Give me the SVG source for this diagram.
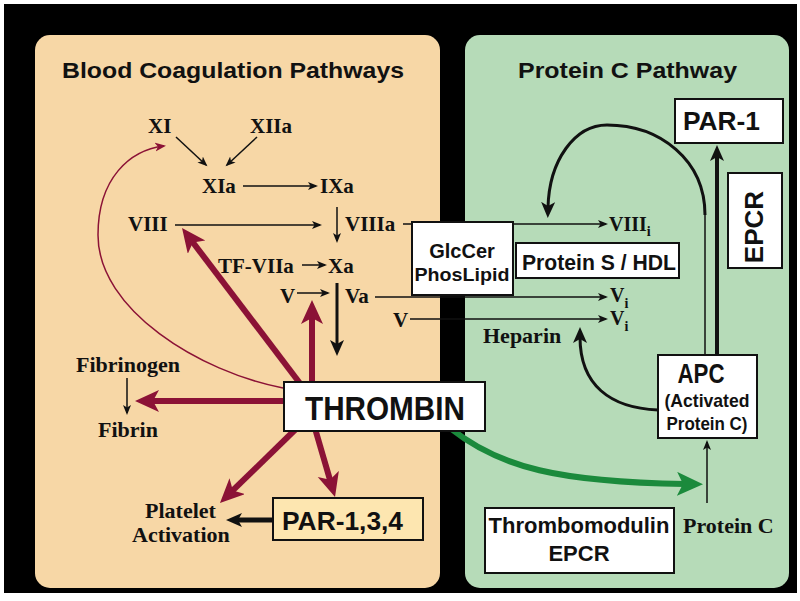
<svg xmlns="http://www.w3.org/2000/svg" width="800" height="601" viewBox="0 0 800 601">
<defs>
<style>
.ser{font-family:"Liberation Serif","Times New Roman",serif;font-weight:bold;fill:#111}
.san{font-family:"Liberation Sans",Arial,sans-serif;font-weight:bold;fill:#111}
.box{fill:#fff;stroke:#111;stroke-width:2}
.thin{fill:none;stroke:#111;stroke-width:1.5}
.thick{fill:none;stroke:#111}
.red{fill:none;stroke:#8b1236;stroke-width:6}
</style>
<marker id="ah" markerUnits="userSpaceOnUse" markerWidth="11" markerHeight="9" refX="8" refY="4" orient="auto" viewBox="0 0 11 9">
<path d="M0,0 L10,4 L0,8 L2.5,4 z" fill="#111"/>
</marker>
<marker id="ahr" markerUnits="userSpaceOnUse" markerWidth="12" markerHeight="10" refX="9" refY="4.5" orient="auto" viewBox="0 0 12 10">
<path d="M0,0 L11,4.5 L0,9 L3,4.5 z" fill="#8b1236"/>
</marker>
<marker id="ab" markerUnits="userSpaceOnUse" markerWidth="17" markerHeight="15" refX="6" refY="7" orient="auto" viewBox="0 0 17 15">
<path d="M0,0 L16,7 L0,14 L4,7 z" fill="#111"/>
</marker>
<marker id="ar" markerUnits="userSpaceOnUse" markerWidth="25" markerHeight="23" refX="10" refY="11" orient="auto" viewBox="0 0 25 23">
<path d="M0,0 L24,11 L0,22 L6,11 z" fill="#8b1236"/>
</marker>
<marker id="ag" markerUnits="userSpaceOnUse" markerWidth="27" markerHeight="25" refX="8" refY="12" orient="auto" viewBox="0 0 27 25">
<path d="M0,0 L26,12 L0,24 L6,12 z" fill="#1b8a3c"/>
</marker>
</defs>

<rect x="4" y="4" width="793" height="589" fill="#000"/>
<rect id="panel-left" x="35" y="35" width="405" height="553" rx="15" fill="#f7d7a6"/>
<rect id="panel-right" x="465" y="35" width="324" height="553" rx="15" fill="#b6dbb8"/>

<text class="san" x="62" y="78" font-size="22" textLength="342" lengthAdjust="spacingAndGlyphs">Blood Coagulation Pathways</text>
<text class="san" x="518" y="78" font-size="22" textLength="219" lengthAdjust="spacingAndGlyphs">Protein C Pathway</text>

<g id="connectors">
<!-- thin black arrows -->
<line class="thin" x1="176" y1="137" x2="206" y2="165" marker-end="url(#ah)"/>
<line class="thin" x1="257" y1="137" x2="227" y2="165" marker-end="url(#ah)"/>
<line class="thin" x1="243" y1="186" x2="316" y2="186" marker-end="url(#ah)"/>
<line class="thin" x1="175" y1="225" x2="320" y2="225" marker-end="url(#ah)"/>
<line class="thin" x1="337" y1="207" x2="337" y2="241" marker-end="url(#ah)"/>
<line class="thin" x1="302" y1="265" x2="325" y2="265" marker-end="url(#ah)"/>
<line class="thin" x1="297" y1="293" x2="328" y2="293" marker-end="url(#ah)"/>
<line class="thin" x1="127" y1="378" x2="127" y2="413" marker-end="url(#ah)"/>
<line class="thin" x1="403" y1="224" x2="606" y2="224" marker-end="url(#ah)"/>
<line class="thin" x1="375" y1="297" x2="606" y2="297" marker-end="url(#ah)"/>
<line class="thin" x1="410" y1="319" x2="606" y2="319" marker-end="url(#ah)"/>
<line class="thin" x1="707" y1="503" x2="707" y2="442" marker-end="url(#ah)"/>
<!-- thick black -->
<line class="thick" stroke-width="3" x1="337" y1="283" x2="337" y2="346" marker-end="url(#ab)"/>
<line class="thick" stroke-width="5" x1="273" y1="520" x2="236" y2="520" marker-end="url(#ab)"/>
<line class="thick" stroke-width="4" x1="717" y1="355" x2="717" y2="155" marker-end="url(#ab)"/>
<line class="thick" stroke-width="1.5" x1="705" y1="355" x2="705" y2="215"/>
<path class="thick" stroke-width="3" d="M705,215 C705,160 660,125 607,125 C575,125 549,160 548,208" marker-end="url(#ab)"/>
<path class="thick" stroke-width="3" d="M658,410 C610,408 580,385 580,337" marker-end="url(#ab)"/>
<!-- red -->
<path fill="none" stroke="#8b1236" stroke-width="1.5" d="M283,388 C200,372 98,310 98,235 C98,178 130,150 164,146" marker-end="url(#ahr)"/>
<line class="red" x1="305" y1="390" x2="190.5" y2="239.2" marker-end="url(#ar)"/>
<line class="red" x1="312" y1="390" x2="312" y2="314" marker-end="url(#ar)"/>
<line class="red" x1="290" y1="401" x2="149" y2="401" marker-end="url(#ar)"/>
<line class="red" x1="300" y1="425" x2="230" y2="493.2" marker-end="url(#ar)"/>
<line class="red" x1="314" y1="425" x2="331.1" y2="483.6" marker-end="url(#ar)"/>
<!-- green -->
<path fill="none" stroke="#1b8a3c" stroke-width="6" d="M450,428 C500,468 560,482 685,484" marker-end="url(#ag)"/>
</g>

<g id="n-XI"><text class="ser" x="148" y="133" font-size="21">XI</text></g>
<g id="n-XIIa"><text class="ser" x="250" y="133" font-size="21">XIIa</text></g>
<g id="n-XIa"><text class="ser" x="202" y="193" font-size="21">XIa</text></g>
<g id="n-IXa"><text class="ser" x="320" y="193" font-size="21">IXa</text></g>
<g id="n-VIII"><text class="ser" x="128" y="231" font-size="21">VIII</text></g>
<g id="n-VIIIa"><text class="ser" x="345" y="231" font-size="21">VIIIa</text></g>
<g id="n-TFVIIa"><text class="ser" x="218" y="273" font-size="21">TF-VIIa</text></g>
<g id="n-Xa"><text class="ser" x="328" y="273" font-size="21">Xa</text></g>
<g id="n-V1"><text class="ser" x="280" y="303" font-size="21">V</text></g>
<g id="n-Va"><text class="ser" x="345" y="303" font-size="21">Va</text></g>
<g id="n-V2"><text class="ser" x="393" y="327" font-size="21">V</text></g>
<g id="n-fibrinogen"><text class="ser" x="76" y="372" font-size="22">Fibrinogen</text></g>
<g id="n-fibrin"><text class="ser" x="98" y="437" font-size="22">Fibrin</text></g>
<g id="n-platelet"><text class="ser" x="145" y="518" font-size="22">Platelet</text><text class="ser" x="132" y="542" font-size="22">Activation</text></g>
<g id="n-VIIIi"><text class="ser" x="609" y="231" font-size="20">VIII<tspan font-size="14" dy="5">i</tspan></text></g>
<g id="n-Vi1"><text class="ser" x="610" y="302" font-size="20">V<tspan font-size="14" dy="6">i</tspan></text></g>
<g id="n-Vi2"><text class="ser" x="610" y="325" font-size="20">V<tspan font-size="14" dy="6">i</tspan></text></g>
<g id="n-heparin"><text class="ser" x="483" y="343" font-size="22">Heparin</text></g>
<g id="n-proteinC"><text class="ser" x="683" y="533" font-size="22">Protein C</text></g>

<g id="n-glccer">
<rect class="box" x="412" y="222" width="101" height="73"/>
<text class="san" x="462" y="258" font-size="20" text-anchor="middle">GlcCer</text>
<text class="san" x="462" y="281" font-size="19" text-anchor="middle" textLength="95" lengthAdjust="spacingAndGlyphs">PhosLipid</text>
</g>
<g id="n-proteinS">
<rect class="box" x="516" y="243" width="163" height="35"/>
<text class="san" x="522" y="270" font-size="22" textLength="154" lengthAdjust="spacingAndGlyphs">Protein S / HDL</text>
</g>
<g id="n-par1">
<rect class="box" x="675" y="99" width="108" height="44"/>
<text class="san" x="683" y="130" font-size="25" textLength="77" lengthAdjust="spacingAndGlyphs">PAR-1</text>
</g>
<g id="n-epcr">
<rect class="box" x="728" y="173" width="54" height="95"/>
<text class="san" x="0" y="0" font-size="26" text-anchor="middle" transform="translate(763,227) rotate(-90)">EPCR</text>
</g>
<g id="n-apc">
<rect class="box" x="658" y="355" width="99" height="83"/>
<text class="san" x="701" y="383" font-size="28" text-anchor="middle" textLength="47" lengthAdjust="spacingAndGlyphs">APC</text>
<text class="san" x="707" y="407" font-size="19" text-anchor="middle" textLength="85" lengthAdjust="spacingAndGlyphs">(Activated</text>
<text class="san" x="707" y="430" font-size="19" text-anchor="middle" textLength="81" lengthAdjust="spacingAndGlyphs">Protein C)</text>
</g>
<g id="n-thrombin">
<rect class="box" x="284" y="382" width="201" height="49"/>
<text class="san" x="385" y="420" font-size="34" text-anchor="middle" textLength="160" lengthAdjust="spacingAndGlyphs">THROMBIN</text>
</g>
<g id="n-par134">
<rect x="273" y="498" width="150" height="42" fill="#fde6b0" stroke="#111" stroke-width="2"/>
<text class="san" x="282" y="530" font-size="25" textLength="121" lengthAdjust="spacingAndGlyphs">PAR-1,3,4</text>
</g>
<g id="n-thrombomodulin">
<rect class="box" x="485" y="508" width="189" height="65"/>
<text class="san" x="579" y="533" font-size="22" text-anchor="middle">Thrombomodulin</text>
<text class="san" x="579" y="561" font-size="22" text-anchor="middle">EPCR</text>
</g>
</svg>
